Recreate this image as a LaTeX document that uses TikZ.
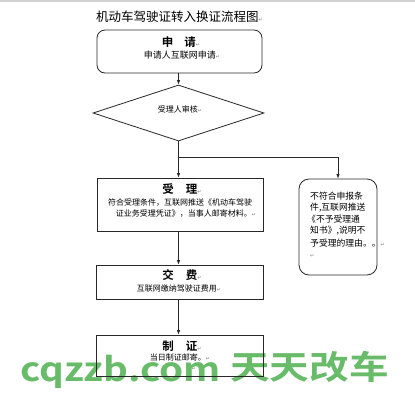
\documentclass[tikz,border=0pt]{standalone}
\usepackage{fontspec}
\usetikzlibrary{shapes.geometric,arrows.meta}
\newfontfamily\cjk{Noto Sans CJK SC}
\newfontfamily\cjkb{Noto Sans CJK SC Bold}
\newfontfamily\dejavu{DejaVu Sans}
\newcommand{\retmark}{{\dejavu\fontsize{5}{5}\selectfont\textcolor{gray}{↵}}}
\definecolor{wmgreen}{RGB}{104,187,104}
\definecolor{linec}{RGB}{40,40,40}
\tikzset{
  box/.style={draw=linec,line width=0.8pt,rectangle,inner sep=0pt},
  rbox/.style={box,rounded corners=8pt},
  txt/.style={inner sep=0pt,font=\cjk\fontsize{8}{8}\selectfont},
  head/.style={inner sep=0pt,font=\cjkb\fontsize{11.5}{11.5}\selectfont},
  conn/.style={draw=linec,line width=0.8pt,-{Latex[length=4.5pt,width=3.5pt]}},
  wm/.style={inner sep=0pt,text=wmgreen,font=\cjkb\fontsize{33}{33}\selectfont}
}
\begin{document}
\begin{tikzpicture}[x=1pt,y=-1pt]
\useasboundingbox (0,0) rectangle (415,400);
\fill[white] (0,0) rectangle (415,400);
\fill[gray!35] (0,0) rectangle (415,2);
% watermark
\node[wm,anchor=base west] (wmlat) at (20,381) {\scalebox{1.17}[1]{cqzzb.com}};
\node[wm,anchor=base west] (wmcjk) at (230,379) {\scalebox{1.2}[1]{天天改车}};
% title
\node[inner sep=0pt,anchor=west,font=\cjk\fontsize{12.5}{12.5}\selectfont] (title) at (96,17) {机动车驾驶证转入换证流程图\retmark};
% boxes
\node[rbox,minimum width=165,minimum height=43] (apply) at (179.5,51.5) {};
\node[head] (applyh) at (181,42) {申\hspace{11pt}请\retmark};
\node[txt,font=\cjk\fontsize{9}{9}\selectfont] (applyt) at (182,55) {申请人互联网申请\retmark};
\node[draw=linec,line width=0.8pt,diamond,inner sep=0pt,minimum width=171,minimum height=56] (check) at (178.5,113) {};
\node[txt] (checkt) at (180,109) {受理人审核\retmark};
\node[box,minimum width=166,minimum height=53] (accept) at (180,204.5) {};
\node[head] (accepth) at (182,189) {受\hspace{12pt}理\retmark};
\node[txt] (acceptt1) at (180,203) {符合受理条件，互联网推送《机动车驾驶};
\node[txt] (acceptt2) at (186,214) {证业务受理凭证》，当事人邮寄材料。\retmark};
\node[rbox,rounded corners=10pt,minimum width=78,minimum height=96] (reject) at (338,227) {};
\node[txt,anchor=west,font=\cjk\fontsize{8.8}{8.8}\selectfont] (rj1) at (310,196) {不符合申报条};
\node[txt,anchor=west,font=\cjk\fontsize{8.8}{8.8}\selectfont] (rj2) at (310,208) {件,互联网推送};
\node[txt,anchor=west,font=\cjk\fontsize{8.8}{8.8}\selectfont] (rj3) at (307,219) {《不予受理通};
\node[txt,anchor=west,font=\cjk\fontsize{8.8}{8.8}\selectfont] (rj4) at (310,231) {知书》,说明不};
\node[txt,anchor=west,font=\cjk\fontsize{8.8}{8.8}\selectfont] (rj5) at (310,243) {予受理的理由。。\retmark};
\node[txt,anchor=west] (rj6) at (310,256) {\retmark};
\node[box,minimum width=167,minimum height=34] (pay) at (179.5,282) {};
\node[head] (payh) at (182,275) {交\hspace{12pt}费\retmark};
\node[txt] (payt) at (179,288) {互联网缴纳驾驶证费用\retmark};
\node[box,minimum width=167,minimum height=41] (make) at (179.5,355.5) {};
\node[head] (makeh) at (182,346) {制\hspace{12pt}证\retmark};
\node[txt] (maket) at (180,357) {当日制证邮寄。\retmark};
\node[txt] (maker) at (194,369) {\retmark};
% connectors
\coordinate (branch) at (178.5,157);
\draw[conn] (apply.south -| check.north) -- (check.north);
\draw[conn] (check.south) -- (check.south |- accept.north);
\draw[conn] (branch) -| (reject.north);
\draw[conn] (accept.south -| check.south) -- (check.south |- pay.north);
\draw[conn] (pay.south -| check.south) -- (check.south |- make.north);
\end{tikzpicture}
\end{document}
